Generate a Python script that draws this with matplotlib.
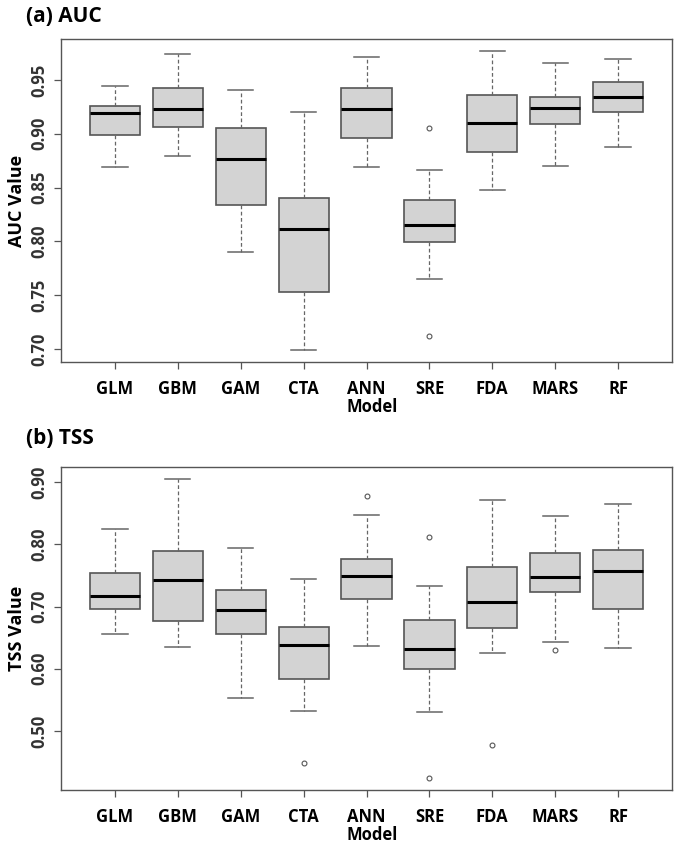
import numpy as np
import matplotlib
matplotlib.use("Agg")
import matplotlib.pyplot as plt

plt.rcParams['font.family'] = ['Open Sans', 'DejaVu Sans']

models = ["GLM", "GBM", "GAM", "CTA", "ANN", "SRE", "FDA", "MARS", "RF"]

# AUC box statistics: low whisker, Q1, median, Q3, high whisker
auc_low = [0.869, 0.8795, 0.7897, 0.699, 0.8692, 0.765, 0.8482, 0.8705, 0.8881]
auc_q1 = [0.899, 0.9067, 0.8334, 0.7526, 0.8959, 0.7996, 0.8832, 0.9088, 0.920]
auc_med = [0.919, 0.923, 0.8767, 0.8114, 0.9234, 0.8151, 0.9104, 0.9243, 0.9342]
auc_q3 = [0.9262, 0.9426, 0.905, 0.840, 0.9429, 0.838, 0.9358, 0.9345, 0.9478]
auc_high = [0.9444, 0.974, 0.9407, 0.9206, 0.9717, 0.8662, 0.9769, 0.9661, 0.9698]
auc_out = [[], [], [], [], [], [0.9054, 0.7118], [], [], []]

# TSS box statistics
tss_low = [0.6558, 0.6355, 0.5525, 0.5327, 0.6365, 0.530, 0.6258, 0.643, 0.6328]
tss_q1 = [0.696, 0.6767, 0.6564, 0.583, 0.7126, 0.5996, 0.666, 0.7238, 0.6965]
tss_med = [0.7169, 0.7431, 0.6938, 0.6382, 0.7495, 0.6317, 0.7078, 0.7469, 0.7565]
tss_q3 = [0.7538, 0.7892, 0.7265, 0.6671, 0.7758, 0.6778, 0.764, 0.786, 0.7913]
tss_high = [0.825, 0.9054, 0.7934, 0.7442, 0.8465, 0.7324, 0.8705, 0.8448, 0.8647]
tss_out = [[], [], [], [0.4491], [0.8775], [0.8122, 0.4245], [0.4775], [0.6301], []]

auc_ticks = [0.70, 0.75, 0.80, 0.85, 0.90, 0.95]
tss_ticks = [0.50, 0.60, 0.70, 0.80, 0.90]


def make_stats(low, q1, med, q3, high, out):
    stats = []
    for i in range(len(models)):
        stats.append(dict(whislo=low[i], q1=q1[i], med=med[i], q3=q3[i],
                          whishi=high[i], fliers=out[i], label=models[i]))
    return stats


def draw(ax, stats, ticks, ylabel):
    pos = np.arange(1, len(models) + 1)
    ax.bxp(stats, positions=pos, widths=0.8, patch_artist=True,
           showfliers=True,
           boxprops=dict(facecolor="#d3d3d3", edgecolor="#555555", linewidth=1.2),
           medianprops=dict(color="black", linewidth=2.2, solid_capstyle="butt"),
           whiskerprops=dict(color="#666666", linewidth=0.9, linestyle=(0, (3, 2))),
           capprops=dict(color="#666666", linewidth=1.1),
           capwidths=0.4,
           flierprops=dict(marker="o", markersize=3.5, markerfacecolor="none",
                           markeredgecolor="#555555", markeredgewidth=0.8))
    # R style: 4% padding around the data range
    lo = min(min([s["whislo"]] + s["fliers"]) for s in stats)
    hi = max(max([s["whishi"]] + s["fliers"]) for s in stats)
    pad = (hi - lo) * 0.04
    ax.set_ylim(lo - pad, hi + pad)
    ax.set_xlim(0.5 - 0.36, len(models) + 0.5 + 0.36)
    ax.set_xticks(pos)
    ax.set_xticklabels(models, fontsize=12, fontweight="bold")
    ax.set_yticks(ticks)
    ax.set_yticklabels(["%.2f" % t for t in ticks], rotation=90, va="center",
                       fontsize=12, fontweight="bold", color="#333333")
    ax.tick_params(axis="both", color="#555555", length=5, width=0.9)
    ax.tick_params(axis="x", pad=8)
    ax.tick_params(axis="y", pad=4)
    for sp in ax.spines.values():
        sp.set_color("#555555")
        sp.set_linewidth(1.0)
    ax.set_xlabel("Model", fontsize=12, fontweight="bold", labelpad=0)
    ax.xaxis.set_label_coords(0.51, -0.112)
    ax.set_ylabel(ylabel, fontsize=13, fontweight="bold", labelpad=3)


fig = plt.figure(figsize=(6.79, 8.49), dpi=100)
ax1 = fig.add_axes([0.0898, 0.5736, 0.900, 0.3804])
ax2 = fig.add_axes([0.0898, 0.0695, 0.900, 0.3808])

draw(ax1, make_stats(auc_low, auc_q1, auc_med, auc_q3, auc_high, auc_out),
     auc_ticks, "AUC Value")
draw(ax2, make_stats(tss_low, tss_q1, tss_med, tss_q3, tss_high, tss_out),
     tss_ticks, "TSS Value")

fig.text(26 / 679, 1 - 16 / 849, "(a) AUC", fontsize=15, fontweight="bold",
         ha="left", va="center")
fig.text(26 / 679, 1 - 439 / 849, "(b) TSS", fontsize=15, fontweight="bold",
         ha="left", va="center")

fig.savefig("out.png", dpi=100)
